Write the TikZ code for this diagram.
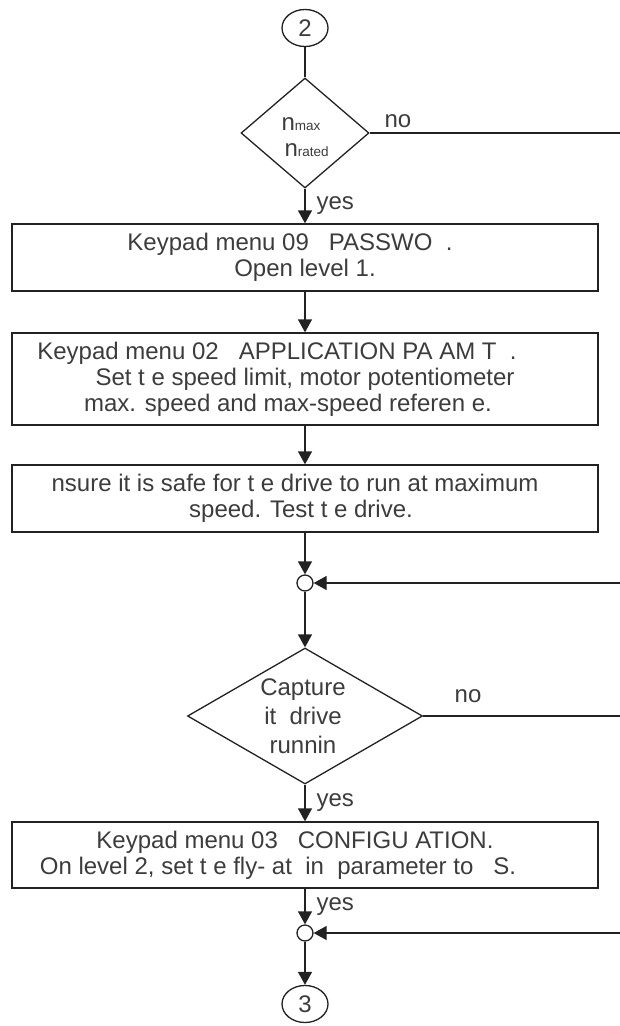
\documentclass[tikz,border=0pt]{standalone}
\usepackage{fontspec}
\setmainfont{Liberation Sans}
\usepackage{xcolor}
\usetikzlibrary{arrows.meta,shapes.geometric}
\definecolor{ink}{HTML}{222222}
\definecolor{txt}{HTML}{3C3C3C}
\newcommand{\lo}[1]{{\fontsize{13.5}{14}\selectfont #1}}
\newcommand{\pad}[1]{\hspace*{#1pt}}
\tikzset{
  base/.style={draw=ink, line width=1.3pt},
  flow/.style={base, -{Triangle[length=13pt,width=14pt]}},
  stepbox/.style={base, rectangle, minimum width=586pt, inner sep=0pt, align=center, text=txt},
  decide/.style={base, diamond, inner sep=0pt},
  conn/.style={base, ellipse, minimum width=46pt, minimum height=37pt, inner sep=0pt, text=txt},
  merge/.style={base, circle, minimum size=16pt, inner sep=0pt},
  lab/.style={text=txt},
  yes/.style={right, text=txt, xshift=9pt, inner sep=2pt},
}

\begin{document}
\begin{tikzpicture}[x=1pt, y=-1pt, font=\fontsize{24}{26}\selectfont]
  \useasboundingbox (0,0) rectangle (620,1026);
  % main column
  \node[conn] (c2) at (305,28) {2};
  \node[decide, minimum width=128pt, minimum height=110pt] (d1) at (305,133) {};
  \node[lab, align=left, anchor=west] (d1t) at (278,137) {n\lo{max}\\\pad{3}n\lo{rated}};
  \node[stepbox, minimum height=67pt] (b1) at (305,257.5)
    {Keypad menu 09~~~PASSWO~~.\pad{30}\\Open level 1.};
  \node[stepbox, minimum height=92pt] (b2) at (305,379)
    {Keypad menu 02~~~APPLICATION PA~AM~T~~.\pad{56}\\Set t e speed limit, motor potentiometer\pad{10}\\max. speed and max-speed referen e.\pad{34}};
  \node[stepbox, minimum height=67pt] (b3) at (305,498.5)
    {nsure it is safe for t e drive to run at maximum\pad{20}\\speed. Test t e drive.\pad{8}};
  \node[merge] (m1) at (305,583) {};
  \node[decide, minimum width=235pt, minimum height=136pt] (d2) at (305,716) {};
  \node[lab, align=center, font=\fontsize{24}{29}\selectfont] (d2t) at (303,716) {Capture\\it~~drive\\runnin};
  \node[stepbox, minimum height=66pt] (b4) at (305,855)
    {Keypad menu 03~~~CONFIGU ATION.\pad{20}\\On level 2, set t e fly- at~~in~~parameter to~~~S.\pad{54}};
  \node[merge] (m2) at (305,933) {};
  \node[conn] (c3) at (305,1004) {3};

  % loose ends on the right
  \coordinate (r1) at (620,133);
  \coordinate (r2) at (620,583);
  \coordinate (r3) at (620,716);
  \coordinate (r4) at (620,933);

  \draw[base] (c2) -- (d1);
  \draw[flow] (d1) -- node[yes] {yes} (b1);
  \foreach \a/\b in {b1/b2, b2/b3, b3/m1, m1/d2, m2/c3}
    \draw[flow] (\a) -- (\b);
  \draw[flow] (d2) -- node[yes] {yes} (b4);
  \draw[flow] (b4) -- node[yes] {yes} (m2);

  \draw[base] (d1) -- (r1);
  \draw[flow] (r2) -- (m1);
  \draw[base] (d2) -- (r3);
  \draw[flow] (r4) -- (m2);
  \node[lab] (no1) at (398,121) {no};
  \node[lab] (no2) at (468,696) {no};
\end{tikzpicture}
\end{document}
